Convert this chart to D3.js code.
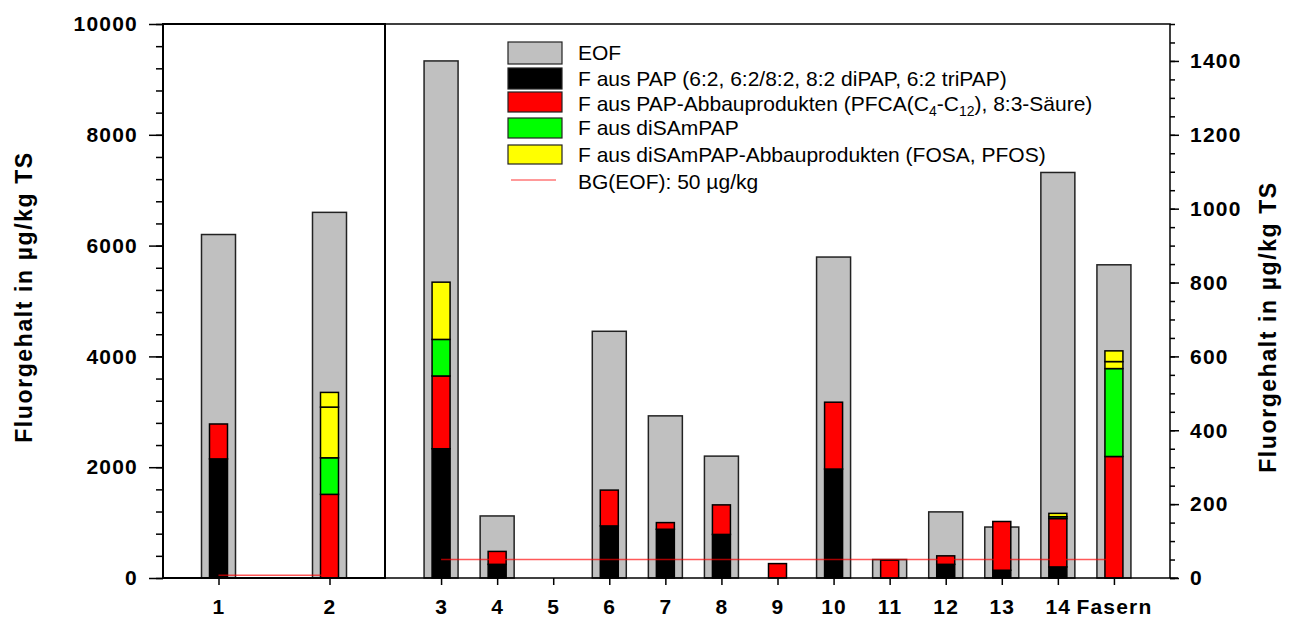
<!DOCTYPE html>
<html>
<head>
<meta charset="utf-8">
<script src="https://cdn.jsdelivr.net/npm/d3@7/dist/d3.min.js"></script>
<style>
  body { margin: 0; background: #fff; }
  svg { display: block; font-family: "Liberation Sans", Arial, sans-serif; }
  .tick text { font-weight: bold; font-size: 21px; fill: #000; letter-spacing: 1.2px; }
  .tick line { stroke: #000; stroke-width: 1.5; }
</style>
</head>
<body>
<svg class="mySVG" width="1289" height="619"></svg>
<script>
// samples; first two are read on the left axis, the rest on the right axis
var leftCats  = ["1", "2"];
var rightCats = ["3", "4", "5", "6", "7", "8", "9", "10", "11", "12", "13", "14", "Fasern"];
var categories = leftCats.concat(rightCats);

// values in µg/kg TS
var eof      = [6200, 6600, 1400, 168, 0, 668, 439, 330, 0, 869, 50, 179, 138, 1098, 848];
var pap      = [2150, 0,    350,  37,  0, 141, 132, 118, 0, 295, 0,  37,  21,  30,   0];
var papAbbau = [630,  1510, 197,  35,  0, 97,  18,  80,  39, 181, 48, 23, 132, 131,  329];
var disampap = [0,    660,  99,   0,   0, 0,   0,   0,   0, 0,   0,  0,   0,   5,    238];
var fosa     = [0,    915,  155,  0,   0, 0,   0,   0,   0, 0,   0,  0,   0,   9,    19];
var pfos     = [0,    265,  0,    0,   0, 0,   0,   0,   0, 0,   0,  0,   0,   0,    29];
var bg = 50;

var leftTicks  = d3.range(0, 10001, 2000);
var rightTicks = d3.range(0, 1401, 200);

var width = 1289, height = 619;
var x0 = 163, xMid = 385, x1 = 1170, yTop = 24, yBot = 578;

var svg = d3.select('.mySVG');

var xL = d3.scalePoint().domain(leftCats).range([x0, xMid]).padding(0.5);
var xR = d3.scalePoint().domain(rightCats).range([xMid, x1]).padding(1);
var yL = d3.scaleLinear().domain([0, 10000]).range([yBot, yTop]);
var yR = d3.scaleLinear().domain([0, 1500]).range([yBot, yTop]);

var rows = categories.map((c, i) => ({
    cat: c, left: i < 2, eof: eof[i],
    pap: pap[i], papAbbau: papAbbau[i], disampap: disampap[i], fosa: fosa[i], pfos: pfos[i]
}));
var xOf = d => d.left ? xL(d.cat) : xR(d.cat);
var yOf = d => d.left ? yL : yR;

var keys = ["pap", "papAbbau", "disampap", "fosa", "pfos"];
var colors = {pap: "#000000", papAbbau: "#ff0000", disampap: "#00ff00", fosa: "#ffff00", pfos: "#ffff00"};
var stack = d3.stack().keys(keys)(rows);

var outerW = 34, innerW = 18;

// EOF bars
svg.append("g")
  .selectAll("rect")
  .data(rows.filter(d => d.eof > 0))
  .join("rect")
    .attr("x", d => xOf(d) - outerW / 2)
    .attr("y", d => yOf(d)(d.eof))
    .attr("width", outerW)
    .attr("height", d => yBot - yOf(d)(d.eof))
    .attr("fill", "#c0c0c0")
    .attr("stroke", "#222")
    .attr("stroke-width", 1.5);

// stacked components
svg.append("g")
  .selectAll("g")
  .data(stack)
  .join("g")
    .attr("fill", s => colors[s.key])
  .selectAll("rect")
  .data(s => s.filter(p => p[1] - p[0] > 0))
  .join("rect")
    .attr("x", p => xOf(p.data) - innerW / 2)
    .attr("y", p => yOf(p.data)(p[1]))
    .attr("width", innerW)
    .attr("height", p => yOf(p.data)(p[0]) - yOf(p.data)(p[1]))
    .attr("stroke", "#000")
    .attr("stroke-width", 1.5);

// detection limit lines
svg.append("line")
    .attr("x1", xL("1")).attr("x2", xL("2"))
    .attr("y1", yL(bg)).attr("y2", yL(bg))
    .attr("stroke", "red").attr("stroke-opacity", 0.65).attr("stroke-width", 1.5);
svg.append("line")
    .attr("x1", xR("3")).attr("x2", xR("Fasern"))
    .attr("y1", yR(bg)).attr("y2", yR(bg))
    .attr("stroke", "red").attr("stroke-opacity", 0.65).attr("stroke-width", 1.5);

// axes
var fmt = d3.format("d");
svg.append("g").attr("transform", `translate(${x0},0)`)
    .call(d3.axisLeft(yL).tickValues(d3.range(0, 10001, 400)).tickSize(7).tickFormat(""))
    .call(g => g.select(".domain").remove());
svg.append("g").attr("transform", `translate(${x0},0)`)
    .call(d3.axisLeft(yL).tickValues(leftTicks).tickSize(14).tickPadding(11).tickFormat(fmt))
    .call(g => g.select(".domain").remove());

svg.append("g").attr("transform", `translate(${x1},0)`)
    .call(d3.axisRight(yR).tickValues(d3.range(0, 1501, 50)).tickSize(5).tickFormat(""))
    .call(g => g.select(".domain").remove());
svg.append("g").attr("transform", `translate(${x1},0)`)
    .call(d3.axisRight(yR).tickValues(rightTicks).tickSize(9).tickPadding(11).tickFormat(fmt))
    .call(g => g.select(".domain").remove());

svg.append("g").attr("transform", `translate(0,${yBot})`)
    .call(d3.axisBottom(xL).tickSize(7).tickPadding(14))
    .call(g => g.select(".domain").remove());
svg.append("g").attr("transform", `translate(0,${yBot})`)
    .call(d3.axisBottom(xR).tickSize(7).tickPadding(14))
    .call(g => g.select(".domain").remove());

// frame
var frame = svg.append("g").attr("fill", "none").attr("stroke", "#000").attr("stroke-width", 1.5);
frame.append("rect").attr("x", x0).attr("y", yTop).attr("width", xMid - x0).attr("height", yBot - yTop)
    .attr("stroke-width", 2);
frame.append("path").attr("d", `M${xMid},${yTop}H${x1}V${yBot}`);
frame.append("path").attr("d", `M${xMid},${yBot}H${x1 + 8}`);

// axis titles
[[24, 297], [1268, 327]].forEach(p => {
    svg.append("text")
        .attr("transform", `translate(${p[0]},${p[1]}) rotate(-90)`)
        .attr("text-anchor", "middle").attr("dominant-baseline", "central")
        .attr("font-weight", "bold").attr("font-size", 23)
        .attr("letter-spacing", 1.6)
        .text("Fluorgehalt in µg/kg TS");
});

// legend
var legendItems = [
    {fill: "#c0c0c0", parts: [["EOF"]]},
    {fill: "#000000", parts: [["F aus PAP (6:2, 6:2/8:2, 8:2 diPAP, 6:2 triPAP)"]]},
    {fill: "#ff0000", parts: [["F aus PAP-Abbauprodukten (PFCA(C"], ["4", "sub"], ["-C"], ["12", "sub"], ["), 8:3-Säure)"]]},
    {fill: "#00ff00", parts: [["F aus diSAmPAP"]]},
    {fill: "#ffff00", parts: [["F aus diSAmPAP-Abbauprodukten (FOSA, PFOS)"]]},
    {line: "red", parts: [["BG(EOF): 50 µg/kg"]]}
];
var swatchY = [42, 68, 92, 118, 145, 180];
var swatchH = [22, 21, 20, 20, 19, 0];
var textY = [53, 79, 104, 128, 155, 182];

var legend = svg.append("g").attr("font-size", 21);
legendItems.forEach((it, i) => {
    if (it.line) {
        legend.append("line").attr("x1", 511).attr("x2", 556)
            .attr("y1", swatchY[i]).attr("y2", swatchY[i])
            .attr("stroke", it.line).attr("stroke-opacity", 0.8).attr("stroke-width", 1.2);
    } else {
        legend.append("rect").attr("x", 508).attr("y", swatchY[i])
            .attr("width", 54).attr("height", swatchH[i])
            .attr("fill", it.fill).attr("stroke", "#222").attr("stroke-width", 1.2);
    }
    var t = legend.append("text").attr("x", 578).attr("y", textY[i]).attr("dy", "0.35em");
    it.parts.forEach(p => {
        var ts = t.append("tspan").text(p[0]);
        if (p[1] === "sub") ts.attr("font-size", 14).attr("dy", 5);
        else if (t.selectAll("tspan").size() > 1) ts.attr("dy", -5);
    });
});
</script>
</body>
</html>
